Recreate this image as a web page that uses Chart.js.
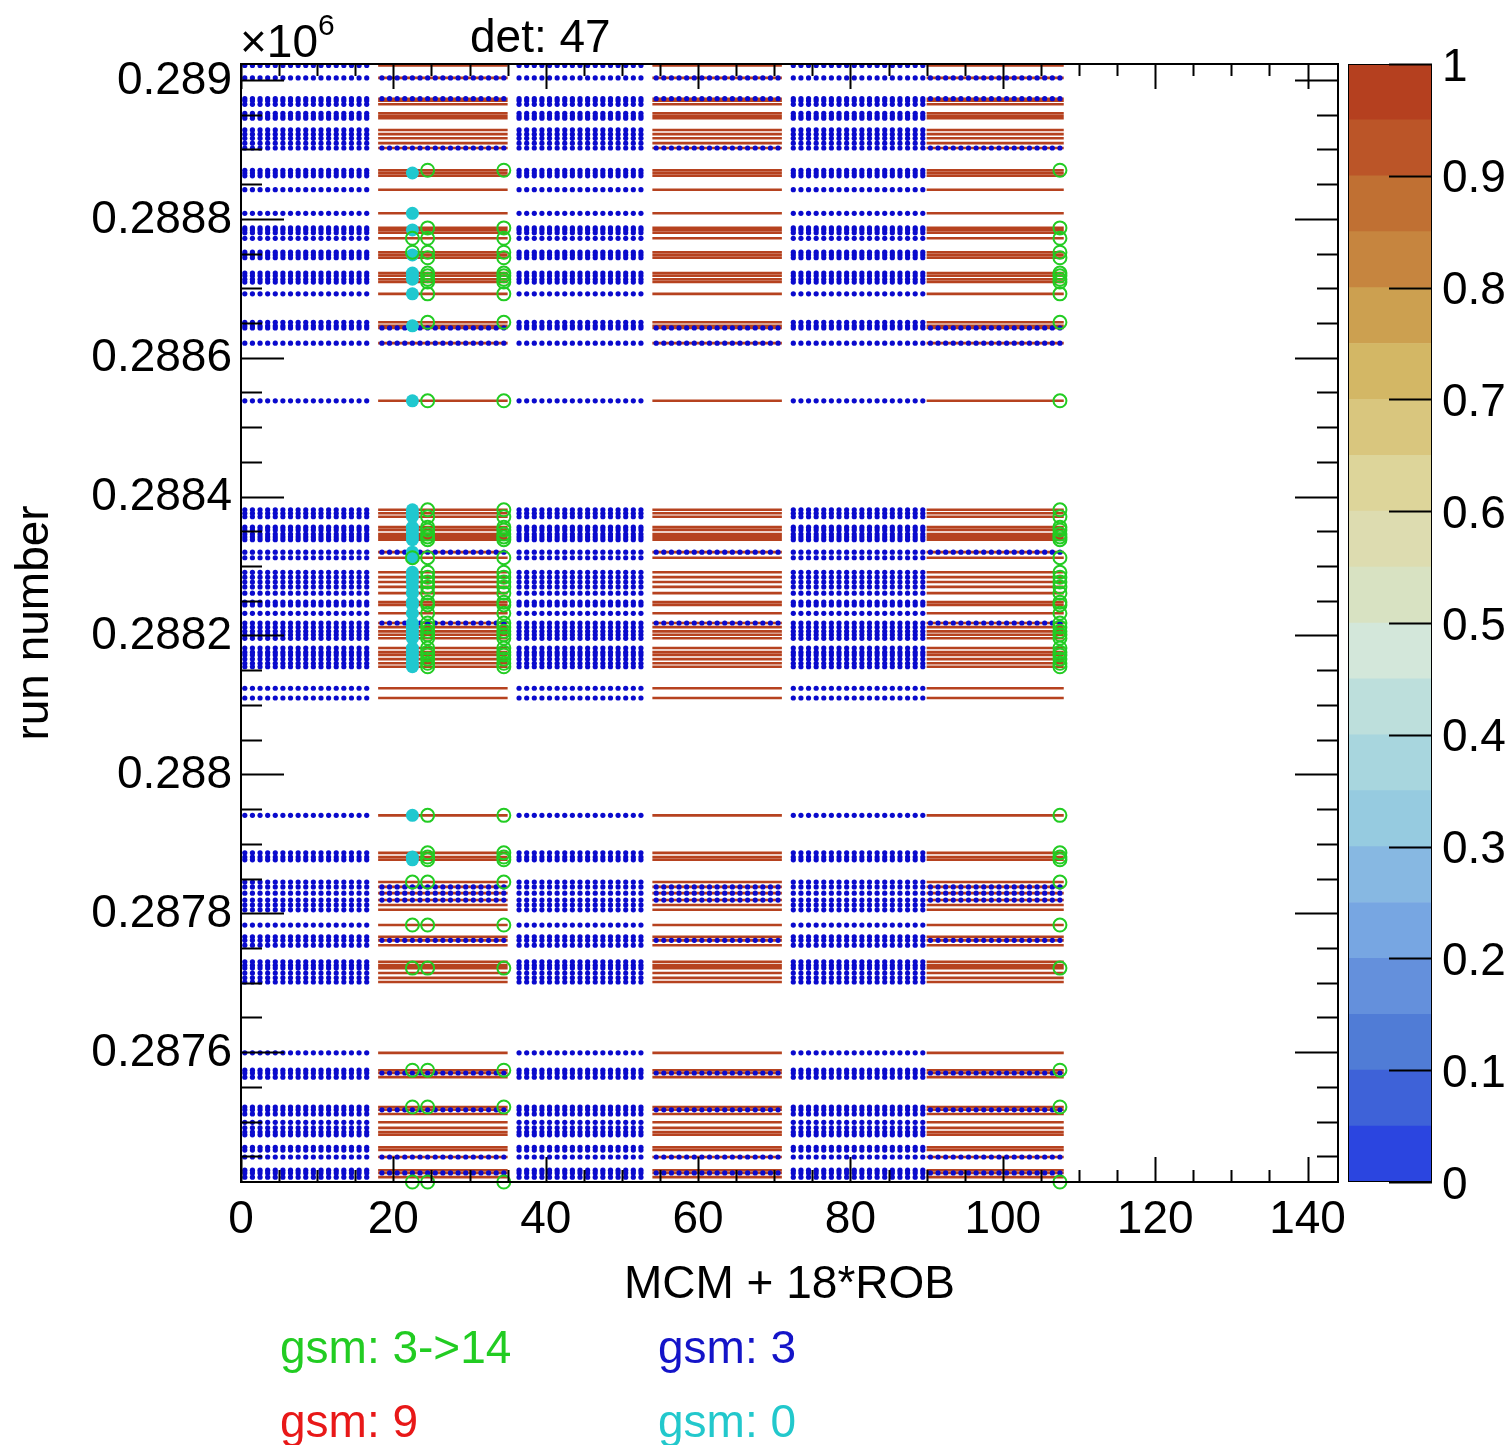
<!DOCTYPE html>
<html>
<head>
<meta charset="utf-8">
<title>det: 47</title>
<script src="https://cdn.jsdelivr.net/npm/chart.js@4.4.1/dist/chart.umd.min.js"></script>
<style>
  body { margin: 0; background: #fff; }
  #wrap { position: relative; width: 1511px; height: 1445px; font-family: "Liberation Sans", Arial, sans-serif; }
  #main { position: absolute; left: 0; top: 0; }
  #pal { position: absolute; left: 1340px; top: 0; }
  .txt { position: absolute; font-size: 46px; line-height: 46px; white-space: nowrap; color: #000; }
</style>
</head>
<body>
<div id="wrap">
  <canvas id="main" width="1511" height="1445"></canvas>
  <canvas id="pal" width="171" height="1445"></canvas>
  <div class="txt" style="left:470px;top:13px">det: 47</div>
  <div class="txt" style="left:240px;top:18px">×10</div>
  <div class="txt" style="left:318px;top:10px;font-size:30px;line-height:30px">6</div>
  <div class="txt" style="left:280px;top:1324px;color:#22cc22">gsm: 3-&gt;14</div>
  <div class="txt" style="left:658px;top:1324px;color:#1414c8">gsm: 3</div>
  <div class="txt" style="left:280px;top:1398px;color:#e81818">gsm: 9</div>
  <div class="txt" style="left:658px;top:1398px;color:#22c8cc">gsm: 0</div>
</div>
<script>
// run numbers of every row (gsm 3 in ROB 0, 2, 4 and gsm 9 in ROB 1, 3, 5)
const runs = [289021, 289003, 288973, 288970, 288965, 288952, 288948, 288945, 288928, 288922, 288916, 288909, 288902,
  288870, 288866, 288862, 288842, 288808, 288787, 288784, 288780, 288772, 288752, 288748, 288744,
  288722, 288718, 288713, 288709, 288692, 288651, 288646, 288643, 288621, 288538,
  288381, 288376, 288371, 288356, 288352, 288346, 288342, 288338, 288320, 288312, 288291, 288284, 288277, 288270, 288261,
  288248, 288244, 288232, 288218, 288212, 288206, 288201, 288196, 288182, 288176, 288172, 288166, 288160, 288155, 288124, 288110,
  287941, 287887, 287881, 287877, 287845, 287838, 287829, 287819, 287812, 287805, 287783, 287766, 287761, 287754,
  287730, 287725, 287721, 287714, 287707, 287701,
  287599, 287574, 287570, 287564, 287521, 287517, 287511, 287499, 287491, 287485, 287481, 287463, 287459, 287449, 287430, 287426, 287420];

// rows where ROB 1, 3, 5 also show gsm 3
const runsGsm3Odd = [289003, 288973, 288902, 288643, 288621, 288320, 288218, 287838, 287829, 287819, 287761, 287570, 287517, 287449, 287426];

// gsm 0 (cyan) at MCM + 18*ROB = 22.5
const runsGsm0 = [288866, 288808, 288784, 288748, 288722, 288718, 288713, 288692, 288646, 288538,
  288381, 288376, 288371, 288356, 288352, 288346, 288342, 288338, 288320, 288312, 288291, 288284, 288277, 288270, 288261,
  288248, 288244, 288232, 288218, 288212, 288206, 288201, 288196, 288182, 288176, 288172, 288166, 288160, 288155,
  287941, 287881, 287877];

// gsm 3->14 (green) at 24.5, 34.5 and 107.5
const runsFlip = [288870, 288787, 288772, 288752, 288744, 288722, 288718, 288713, 288709, 288692, 288651, 288538,
  288381, 288371, 288356, 288352, 288346, 288342, 288338, 288312, 288291, 288284, 288277, 288270, 288261,
  288248, 288244, 288232, 288218, 288212, 288206, 288201, 288196, 288182, 288176, 288172, 288166, 288160, 288155,
  287941, 287887, 287881, 287877, 287845, 287783, 287721, 287574, 287521, 287413];
const flipColumns = [24.5, 34.5, 107.5];
// gsm 3->14 (green) at 22.5
const runsFlip22 = [288772, 288752, 288312, 287845, 287783, 287721, 287574, 287521, 287413];
const cyanColumn = 22.5;

const robsEven = [0, 2, 4];
const robsOdd = [1, 3, 5];
const mcmCount = [17, 17, 17, 17, 18, 18];

const xTicks = [0, 20, 40, 60, 80, 100, 120, 140];
const yTicks = [287600, 287800, 288000, 288200, 288400, 288600, 288800, 289000];
const paletteColors = ['#2b45e0', '#3e62d8', '#507cd6', '#6490dc', '#77a6e2', '#87b8e2', '#96cbe0', '#a8d6de',
  '#bddfdc', '#d3e7da', '#d8e2c2', '#dddcb0', '#ddd59a', '#d9c67e', '#d3b765', '#cca050',
  '#c6853f', '#c07033', '#bb5528', '#b5401f'];
const levelWidth = 0.05;

const FONT = '"Liberation Sans", Arial, sans-serif';
Chart.defaults.font.family = FONT;
Chart.defaults.font.size = 46;
Chart.defaults.color = '#000';

function dotsFor(runList, robs) {
    const pts = [];
    runList.forEach(r => {
        robs.forEach(rob => {
            for (let k = 0; k < mcmCount[rob]; k++) pts.push({x: 18 * rob + k + 0.5, y: r});
        });
    });
    return pts;
}

function redSegments() {
    const pts = [];
    runs.forEach(r => {
        robsOdd.forEach(rob => {
            pts.push({x: 18 * rob, y: r});
            pts.push({x: 18 * rob + mcmCount[rob], y: r});
            pts.push({x: 18 * rob + mcmCount[rob], y: null});
        });
    });
    return pts;
}

const greenPts = [];
runsFlip.forEach(r => flipColumns.forEach(c => greenPts.push({x: c, y: r})));
runsFlip22.forEach(r => greenPts.push({x: 22.5, y: r}));

const rootTicks = {
    id: 'rootTicks',
    afterDraw(chart) {
        const {ctx, chartArea: a, scales} = chart;
        const ys = scales.y, xs = scales.x;
        ctx.save();
        ctx.strokeStyle = '#000';
        ctx.lineWidth = 2;
        ctx.beginPath();
        for (let v = Math.ceil(ys.min / 50) * 50; v <= ys.max; v += 50) {
            const py = Math.round(ys.getPixelForValue(v)) + 0.5;
            const len = v % 200 === 0 ? 43 : 21;
            ctx.moveTo(a.left, py); ctx.lineTo(a.left + len, py);
            ctx.moveTo(a.right, py); ctx.lineTo(a.right - len, py);
        }
        for (let v = 0; v <= xs.max; v += 5) {
            const px = Math.round(xs.getPixelForValue(v)) + 0.5;
            const len = v % 20 === 0 ? 25 : 12;
            ctx.moveTo(px, a.bottom); ctx.lineTo(px, a.bottom - len);
            ctx.moveTo(px, a.top); ctx.lineTo(px, a.top + len);
        }
        ctx.stroke();
        ctx.lineWidth = 2;
        ctx.strokeRect(a.left, a.top, a.right - a.left, a.bottom - a.top);
        ctx.restore();
    }
};

new Chart(document.getElementById('main'), {
    type: 'scatter',
    data: {
        datasets: [
            {label: 'gsm: 3->14', data: greenPts, order: 1, clip: false, pointRadius: 6.5, pointBorderWidth: 2,
             pointBorderColor: '#22cc22', pointBackgroundColor: 'rgba(0,0,0,0)'},
            {label: 'gsm: 0', data: runsGsm0.map(r => ({x: cyanColumn, y: r})), order: 2, pointRadius: 6.5,
             pointBorderWidth: 0, pointBackgroundColor: '#20c8cf'},
            {label: 'gsm: 3', data: dotsFor(runs, robsEven).concat(dotsFor(runsGsm3Odd, robsOdd)), order: 3,
             pointRadius: 2.6, pointBorderWidth: 0, pointBackgroundColor: '#0a0acd'},
            {label: 'gsm: 9', data: redSegments(), order: 4, showLine: true, spanGaps: false, pointRadius: 0,
             borderColor: '#b6421f', borderWidth: 2.6}
        ]
    },
    options: {
        responsive: false,
        animation: false,
        events: [],
        layout: {padding: {left: 0, top: 64, right: 173, bottom: 132}},
        plugins: {legend: {display: false}, tooltip: {enabled: false}},
        scales: {
            x: {
                type: 'linear', min: 0, max: 144,
                grid: {display: false, drawTicks: false}, border: {display: false},
                afterBuildTicks(s) { s.ticks = xTicks.map(v => ({value: v})); },
                ticks: {padding: 11, maxRotation: 0, autoSkip: false},
                title: {display: true, text: 'MCM + 18*ROB', padding: {top: 0, bottom: 0}},
                afterFit(s) { s.height = 131; }
            },
            y: {
                type: 'linear', min: 287413, max: 289023,
                grid: {display: false, drawTicks: false}, border: {display: false},
                afterBuildTicks(s) { s.ticks = yTicks.map(v => ({value: v})); },
                ticks: {padding: 9, labelOffset: 1, autoSkip: false,
                        callback: v => String(parseFloat((v / 1e6).toFixed(4)))},
                title: {display: true, text: 'run number', padding: {top: 8, bottom: 0}},
                afterFit(s) { s.width = 241; }
            }
        }
    },
    plugins: [rootTicks]
});

const paletteTicks = {
    id: 'paletteTicks',
    afterDraw(chart) {
        const {ctx, chartArea: a, scales} = chart;
        ctx.save();
        ctx.strokeStyle = '#000';
        ctx.lineWidth = 2;
        ctx.beginPath();
        for (let i = 0; i <= 10; i++) {
            const py = Math.round(scales.y.getPixelForValue(i / 10)) + 0.5;
            ctx.moveTo(a.right, py); ctx.lineTo(a.right - 43, py);
        }
        ctx.stroke();
        ctx.lineWidth = 1;
        ctx.strokeRect(a.left + 0.5, a.top + 0.5, a.right - a.left - 1, a.bottom - a.top - 1);
        ctx.restore();
    }
};

new Chart(document.getElementById('pal'), {
    type: 'bar',
    data: {
        labels: [''],
        datasets: paletteColors.map(c => ({data: [levelWidth], backgroundColor: c, borderWidth: 0,
                                           barPercentage: 1, categoryPercentage: 1}))
    },
    options: {
        responsive: false,
        animation: false,
        events: [],
        layout: {padding: {left: 8, top: 64, right: 0, bottom: 263}},
        plugins: {legend: {display: false}, tooltip: {enabled: false}},
        scales: {
            x: {stacked: true, display: false},
            y: {
                stacked: true, position: 'right', min: 0, max: 1,
                grid: {display: false, drawTicks: false}, border: {display: false},
                ticks: {stepSize: 0.1, padding: 10, labelOffset: 4, callback: v => String(+v.toFixed(1))},
                afterFit(s) { s.width = 79; }
            }
        }
    },
    plugins: [paletteTicks]
});
</script>
</body>
</html>
